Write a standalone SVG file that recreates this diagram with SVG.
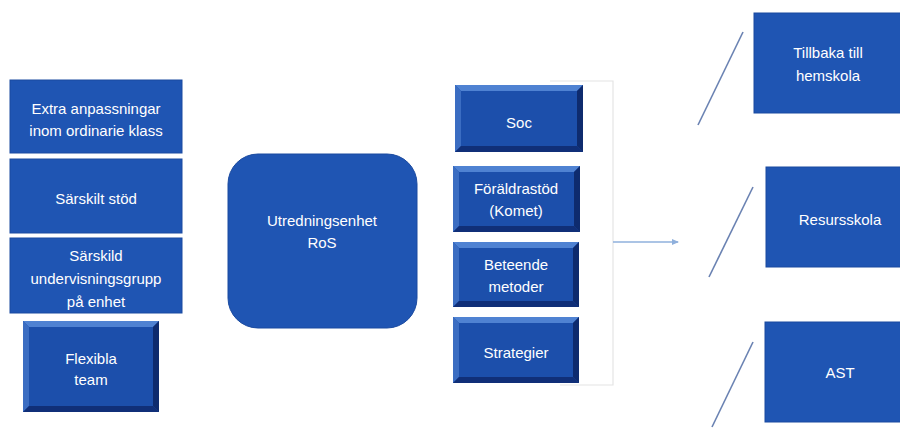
<svg xmlns="http://www.w3.org/2000/svg" width="900" height="428" viewBox="0 0 900 428">
<defs>
<style>
.flat{fill:#1f55b3;stroke:#1a4aa0;stroke-width:1}
.core{fill:#1c4fab}
.bt{fill:#4f82d2}
.bl{fill:#3b6dc2}
.bb{fill:#102f78}
.br{fill:#0e2b6e}
.t{font-family:"Liberation Sans","DejaVu Sans",sans-serif;font-size:15px;fill:#ffffff;text-anchor:middle;dominant-baseline:central}
.conn{stroke:#8fb0dc;stroke-width:1.3;fill:none}
.slash{stroke:#6a82b2;stroke-width:1.6;fill:none}
</style>
<marker id="ah" markerWidth="8" markerHeight="8" refX="6" refY="4" orient="auto" markerUnits="userSpaceOnUse">
<path d="M0,1 L7,4 L0,7 Z" fill="#8fb0dc"/>
</marker>
</defs>
<rect width="900" height="428" fill="#ffffff"/>

<g id="extra">
<rect class="flat" x="10" y="80" width="172" height="73"/>
<text class="t" x="96" y="108">Extra anpassningar</text>
<text class="t" x="96" y="130">inom ordinarie klass</text>
</g>
<g id="sarskilt-stod">
<rect class="flat" x="10" y="159" width="172" height="74"/>
<text class="t" x="96" y="198">Särskilt stöd</text>
</g>
<g id="sarskild-grupp">
<rect class="flat" x="10" y="238" width="172" height="75"/>
<text class="t" x="96" y="255">Särskild</text>
<text class="t" x="96" y="278">undervisningsgrupp</text>
<text class="t" x="96" y="301">på enhet</text>
</g>
<g id="flexibla">
<rect class="core" x="23" y="321" width="136" height="91"/>
<polygon class="bt" points="23,321 159,321 153,327 29,327"/>
<polygon class="bl" points="23,321 29,327 29,406 23,412"/>
<polygon class="bb" points="23,412 29,406 153,406 159,412"/>
<polygon class="br" points="159,321 159,412 153,406 153,327"/>
<text class="t" x="91" y="358">Flexibla</text>
<text class="t" x="91" y="379">team</text>
</g>

<g id="utredning">
<rect class="flat" x="228" y="154" width="189" height="174" rx="30" ry="30"/>
<text class="t" x="322" y="220">Utredningsenhet</text>
<text class="t" x="322" y="242">RoS</text>
</g>

<g id="frame">
<path d="M550,81 H613 V385 H560" fill="none" stroke="#e4e4e4" stroke-width="1.2"/>
</g>

<g id="soc">
<rect class="core" x="455" y="85" width="128" height="67"/>
<polygon class="bt" points="455,85 583,85 577,91 461,91"/>
<polygon class="bl" points="455,85 461,91 461,146 455,152"/>
<polygon class="bb" points="455,152 461,146 577,146 583,152"/>
<polygon class="br" points="583,85 583,152 577,146 577,91"/>
<text class="t" x="519" y="122">Soc</text>
</g>
<g id="foraldrastod">
<rect class="core" x="453" y="166" width="127" height="66"/>
<polygon class="bt" points="453,166 580,166 574,172 459,172"/>
<polygon class="bl" points="453,166 459,172 459,226 453,232"/>
<polygon class="bb" points="453,232 459,226 574,226 580,232"/>
<polygon class="br" points="580,166 580,232 574,226 574,172"/>
<text class="t" x="516" y="188">Föräldrastöd</text>
<text class="t" x="516" y="210">(Komet)</text>
</g>
<g id="beteende">
<rect class="core" x="453" y="242" width="126" height="65"/>
<polygon class="bt" points="453,242 579,242 573,248 459,248"/>
<polygon class="bl" points="453,242 459,248 459,301 453,307"/>
<polygon class="bb" points="453,307 459,301 573,301 579,307"/>
<polygon class="br" points="579,242 579,307 573,301 573,248"/>
<text class="t" x="516" y="264">Beteende</text>
<text class="t" x="516" y="286">metoder</text>
</g>
<g id="strategier">
<rect class="core" x="453" y="317" width="126" height="66"/>
<polygon class="bt" points="453,317 579,317 573,323 459,323"/>
<polygon class="bl" points="453,317 459,323 459,377 453,383"/>
<polygon class="bb" points="453,383 459,377 573,377 579,383"/>
<polygon class="br" points="579,317 579,383 573,377 573,323"/>
<text class="t" x="516" y="352">Strategier</text>
</g>

<g id="tillbaka">
<rect class="flat" x="754" y="13" width="150" height="100"/>
<text class="t" x="828" y="52">Tillbaka till</text>
<text class="t" x="828" y="75">hemskola</text>
</g>
<g id="resursskola">
<rect class="flat" x="766" y="167" width="140" height="100"/>
<text class="t" x="840" y="219">Resursskola</text>
</g>
<g id="ast">
<rect class="flat" x="765" y="322" width="140" height="100"/>
<text class="t" x="840" y="372">AST</text>
</g>

<g id="connectors">
<line class="conn" x1="613" y1="242" x2="678" y2="242" marker-end="url(#ah)"/>
<line class="slash" x1="743" y1="32" x2="698" y2="125"/>
<line class="slash" x1="753" y1="187" x2="709" y2="277"/>
<line class="slash" x1="753" y1="342" x2="712" y2="427"/>
</g>
</svg>
